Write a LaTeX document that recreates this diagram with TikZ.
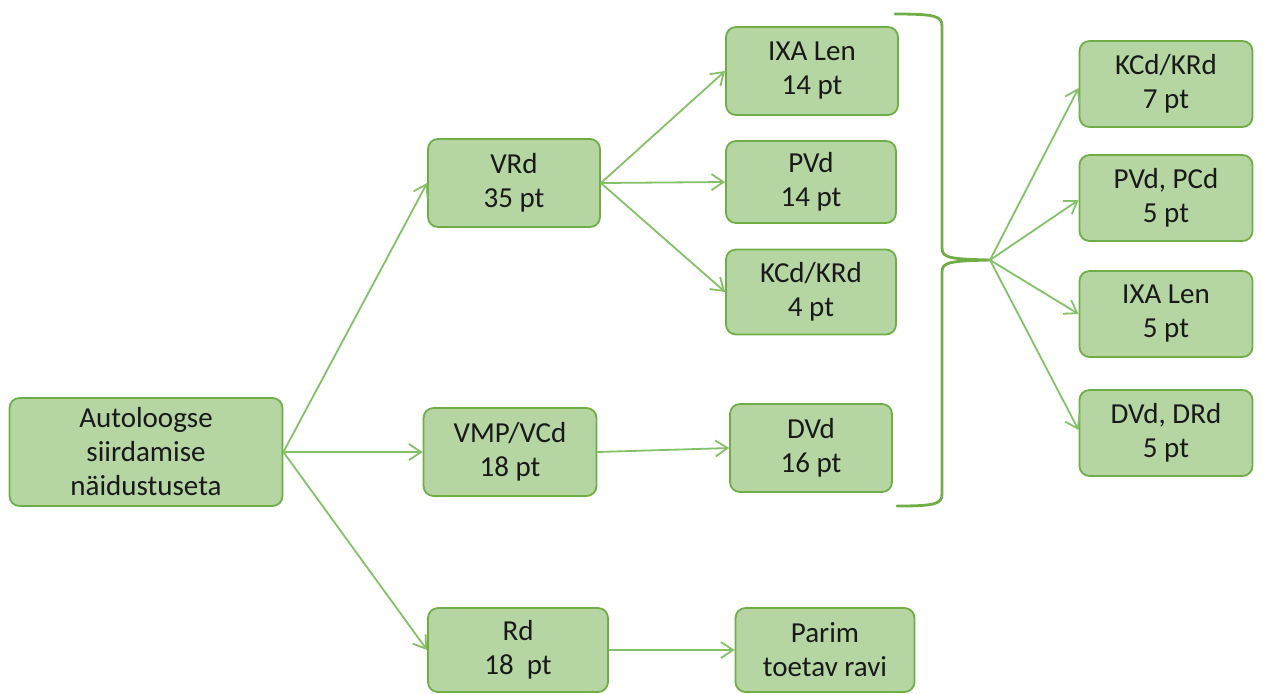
\documentclass[tikz,border=0pt]{standalone}
\usepackage{fontspec}
\setmainfont{Carlito}
\usetikzlibrary{arrows.meta}
\definecolor{boxfill}{RGB}{181,214,163}
\definecolor{boxline}{RGB}{112,173,71}
\definecolor{linkline}{RGB}{132,192,104}
\definecolor{txt}{RGB}{25,25,25}
\tikzset{
  px/.style={x=0.5pt,y=-0.5pt},
  box/.style={draw=boxline, fill=boxfill, line width=0.9pt, rounded corners=5pt,
    align=center, text=txt, inner sep=0pt,
    font=\fontsize{14.5}{17}\selectfont},
  link/.style={draw=linkline, line width=0.9pt,
    -{Straight Barb[length=6pt,width=8pt,line width=0.9pt]}},
  bracket/.style={draw=boxline, line width=1.4pt, line cap=round, line join=round}
}
\begin{document}
\begin{tikzpicture}[px]
\useasboundingbox (0,0) rectangle (1263,693);

% root
\node[box, minimum width=136.5pt, minimum height=54pt] (root) at (146,452)
  {Autoloogse\\siirdamise\\näidustuseta};

% second column
\node[box, minimum width=86pt, minimum height=44pt] (vrd) at (514,183) {VRd\\35 pt};
\node[box, minimum width=86.5pt, minimum height=44pt] (vmp) at (510,452) {VMP/VCd\\18 pt};
\node[box, minimum width=90pt, minimum height=42pt] (rd) at (518,650) {Rd\\18\ \ pt};

% third column
\node[box, minimum width=86pt, minimum height=44pt] (ixa) at (812,71) {IXA Len\\14 pt};
\node[box, minimum width=85pt, minimum height=41pt] (pvd) at (811,182) {PVd\\14 pt};
\node[box, minimum width=85pt, minimum height=42.5pt] (kcd) at (811,292) {KCd/KRd\\4 pt};
\node[box, minimum width=81pt, minimum height=44pt] (dvd) at (811,448) {DVd\\16 pt};
\node[box, minimum width=89.5pt, minimum height=42pt] (parim) at (825,650) {Parim\\toetav ravi};

% fourth column
\node[box, minimum width=86.5pt, minimum height=43pt] (r1) at (1166,84) {KCd/KRd\\7 pt};
\node[box, minimum width=86.5pt, minimum height=43pt] (r2) at (1166,198) {PVd, PCd\\5 pt};
\node[box, minimum width=86.5pt, minimum height=43pt] (r3) at (1166,314) {IXA Len\\5 pt};
\node[box, minimum width=86.5pt, minimum height=43pt] (r4) at (1166,433) {DVd, DRd\\5 pt};

% closing brace around the third column
\coordinate (tip) at (990,260);
\draw[bracket] (895,14) .. controls (935,14) and (942,16) .. (942,26)
  -- (942,248) .. controls (942,258) and (950,259) .. (tip)
  .. controls (950,261) and (942,262) .. (942,272)
  -- (942,494) .. controls (942,504) and (935,506) .. (897,506);

% connectors
\draw[link] (root.east) -- (vrd.west);
\draw[link] (root.east) -- (vmp.west);
\draw[link] (root.east) -- (rd.west);
\draw[link] (vrd.east) -- (ixa.west);
\draw[link] (vrd.east) -- (pvd.west);
\draw[link] (vrd.east) -- (kcd.west);
\draw[link] (vmp.east) -- (dvd.west);
\draw[link] (rd.east) -- (parim.west);
\draw[link] (tip) -- ([yshift=-2pt]r1.west);
\draw[link] (tip) -- ([yshift=-1pt]r2.west);
\draw[link] (tip) -- (r3.west);
\draw[link] (tip) -- ([yshift=1.5pt]r4.west);
\end{tikzpicture}
\end{document}
